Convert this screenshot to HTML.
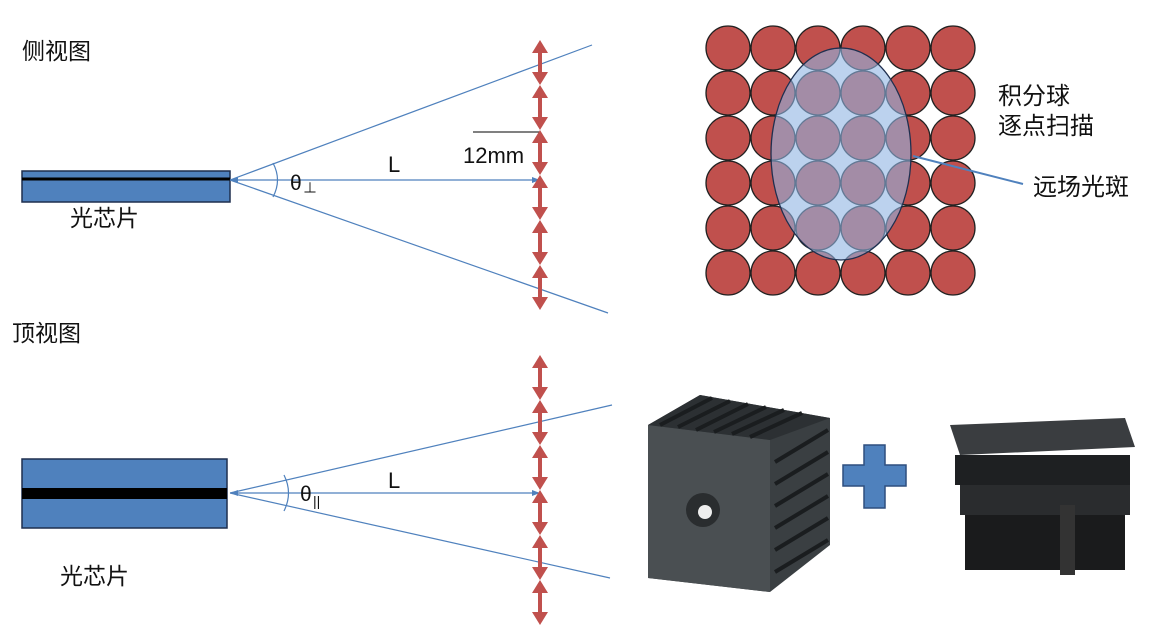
<!DOCTYPE html>
<html><head><meta charset="utf-8"><style>
body{margin:0;background:#fff;}
svg{display:block;}
text{font-family:"Liberation Sans","Noto Sans CJK SC",sans-serif;fill:#111;}
</style></head><body>
<svg width="1153" height="637" viewBox="0 0 1153 637" xmlns="http://www.w3.org/2000/svg">
<defs>
<g id="seg">
<line x1="0" y1="6" x2="0" y2="39" stroke="#c0504d" stroke-width="4"/>
<polygon points="-8,13 8,13 0,0" fill="#c0504d"/>
<polygon points="-8,32 8,32 0,45" fill="#c0504d"/>
</g>
</defs>
<text x="22" y="59" font-size="23">侧视图</text>
<rect x="22" y="171" width="208" height="31" fill="#4f81bd" stroke="#1f2f4f" stroke-width="1.5"/>
<line x1="22" y1="179" x2="230" y2="179" stroke="#000" stroke-width="3"/>
<text x="70" y="226" font-size="23">光芯片</text>
<line x1="230" y1="180" x2="592" y2="45" stroke="#4f81bd" stroke-width="1.2"/>
<line x1="230" y1="180" x2="608" y2="313" stroke="#4f81bd" stroke-width="1.2"/>
<line x1="232" y1="180" x2="538" y2="180" stroke="#4f81bd" stroke-width="1.2"/>
<polygon points="230,180 238,177 238,183" fill="#4f81bd"/>
<polygon points="540,180 532,177 532,183" fill="#4f81bd"/>
<path d="M273,163 Q282,180 273,197" fill="none" stroke="#4f81bd" stroke-width="1.2"/>
<text x="290" y="190" font-size="21">θ</text><text x="303" y="193" font-size="14">⊥</text>
<text x="388" y="172" font-size="22">L</text>
<line x1="473" y1="132" x2="540" y2="132" stroke="#000" stroke-width="1"/>
<text x="463" y="163" font-size="22">12mm</text>
<g transform="translate(540,40)"><use href="#seg"/><use href="#seg" y="45"/><use href="#seg" y="90"/><use href="#seg" y="135"/><use href="#seg" y="180"/><use href="#seg" y="225"/></g>

<text x="12" y="341" font-size="23">顶视图</text>
<rect x="22" y="459" width="205" height="69" fill="#4f81bd" stroke="#1f2f4f" stroke-width="1.5"/>
<rect x="22" y="488" width="205" height="11" fill="#000"/>
<text x="60" y="584" font-size="23">光芯片</text>
<line x1="230" y1="493" x2="612" y2="405" stroke="#4f81bd" stroke-width="1.2"/>
<line x1="230" y1="493" x2="610" y2="578" stroke="#4f81bd" stroke-width="1.2"/>
<line x1="232" y1="493" x2="538" y2="493" stroke="#4f81bd" stroke-width="1.2"/>
<polygon points="230,493 238,490 238,496" fill="#4f81bd"/>
<polygon points="540,493 532,490 532,496" fill="#4f81bd"/>
<path d="M284,475 Q293,493 284,511" fill="none" stroke="#4f81bd" stroke-width="1.2"/>
<text x="300" y="501" font-size="21">θ</text><text x="313" y="506" font-size="14">||</text>
<text x="388" y="488" font-size="22">L</text>
<g transform="translate(540,355)"><use href="#seg"/><use href="#seg" y="45"/><use href="#seg" y="90"/><use href="#seg" y="135"/><use href="#seg" y="180"/><use href="#seg" y="225"/></g>

<g fill="#c0504d" stroke="#222" stroke-width="1.3">
<g id="row"><circle cx="728" cy="48" r="22"/><circle cx="773" cy="48" r="22"/><circle cx="818" cy="48" r="22"/><circle cx="863" cy="48" r="22"/><circle cx="908" cy="48" r="22"/><circle cx="953" cy="48" r="22"/></g>
<use href="#row" y="45"/><use href="#row" y="90"/><use href="#row" y="135"/><use href="#row" y="180"/><use href="#row" y="225"/>
</g>
<ellipse cx="841" cy="154" rx="70" ry="106" fill="#8fb4e3" fill-opacity="0.6" stroke="#1f2f4f" stroke-width="1.3"/>
<line x1="913" y1="156" x2="1023" y2="184" stroke="#4f81bd" stroke-width="2"/>
<text x="998" y="104" font-size="24">积分球</text>
<text x="998" y="134" font-size="24">逐点扫描</text>
<text x="1033" y="195" font-size="24">远场光斑</text>

<polygon points="648,425 700,395 830,418 830,545 770,592 648,578" fill="#3a3f42"/>
<polygon points="648,425 770,440 770,592 648,578" fill="#4a4f52"/>
<polygon points="648,425 700,395 830,418 770,440" fill="#2c3033"/>
<g stroke="#1a1d1f" stroke-width="4">
<line x1="660" y1="425" x2="712" y2="398"/><line x1="678" y1="427" x2="730" y2="401"/><line x1="696" y1="430" x2="748" y2="404"/><line x1="714" y1="432" x2="766" y2="407"/><line x1="732" y1="434" x2="784" y2="410"/><line x1="750" y1="437" x2="802" y2="413"/>
<line x1="775" y1="462" x2="828" y2="430"/><line x1="775" y1="484" x2="828" y2="452"/><line x1="775" y1="506" x2="828" y2="474"/><line x1="775" y1="528" x2="828" y2="496"/><line x1="775" y1="550" x2="828" y2="518"/><line x1="775" y1="572" x2="828" y2="540"/>
</g>
<circle cx="703" cy="510" r="17" fill="#2a2d2f"/>
<circle cx="705" cy="512" r="7" fill="#eee"/>
<polygon points="864,445 885,445 885,465 906,465 906,486 885,486 885,508 864,508 864,486 843,486 843,465 864,465" fill="#4f81bd" stroke="#2f4f7f" stroke-width="1.5"/>
<polygon points="950,425 1125,418 1135,447 960,455" fill="#3a3d40"/>
<rect x="955" y="455" width="175" height="30" fill="#1e2022"/>
<rect x="960" y="485" width="170" height="30" fill="#2a2c2e"/>
<rect x="965" y="515" width="160" height="55" fill="#1a1b1c"/>
<rect x="1060" y="505" width="15" height="70" fill="#333"/>
</svg>
</body></html>
